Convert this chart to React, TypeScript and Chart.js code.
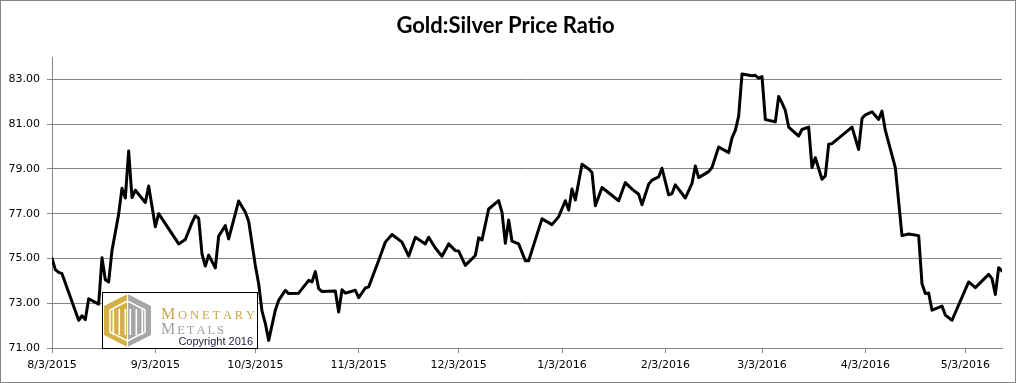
import React, { useEffect, useRef } from "react";
import { Chart, registerables } from "chart.js";

Chart.register(...registerables);

const chartTitle = "Gold:Silver Price Ratio";

const dates = [
  "2015-08-03", "2015-08-04", "2015-08-05", "2015-08-06", "2015-08-11", "2015-08-12", "2015-08-13", "2015-08-14",
  "2015-08-17", "2015-08-18", "2015-08-19", "2015-08-20", "2015-08-21", "2015-08-23", "2015-08-24", "2015-08-25",
  "2015-08-26", "2015-08-27", "2015-08-28", "2015-08-31", "2015-09-01", "2015-09-03", "2015-09-04", "2015-09-10",
  "2015-09-12", "2015-09-14", "2015-09-15", "2015-09-16", "2015-09-17", "2015-09-18", "2015-09-19", "2015-09-21",
  "2015-09-22", "2015-09-24", "2015-09-25", "2015-09-28", "2015-09-30", "2015-10-01", "2015-10-03", "2015-10-04",
  "2015-10-05", "2015-10-06", "2015-10-07", "2015-10-09", "2015-10-10", "2015-10-12", "2015-10-13", "2015-10-16",
  "2015-10-19", "2015-10-20", "2015-10-21", "2015-10-22", "2015-10-23", "2015-10-27", "2015-10-28", "2015-10-29",
  "2015-10-30", "2015-11-02", "2015-11-03", "2015-11-05", "2015-11-06", "2015-11-09", "2015-11-11", "2015-11-13",
  "2015-11-16", "2015-11-18", "2015-11-20", "2015-11-23", "2015-11-24", "2015-11-26", "2015-11-28", "2015-11-30",
  "2015-12-02", "2015-12-03", "2015-12-05", "2015-12-08", "2015-12-09", "2015-12-10", "2015-12-12", "2015-12-15",
  "2015-12-16", "2015-12-17", "2015-12-18", "2015-12-19", "2015-12-21", "2015-12-23", "2015-12-24", "2015-12-28",
  "2015-12-31", "2016-01-02", "2016-01-04", "2016-01-05", "2016-01-06", "2016-01-07", "2016-01-09", "2016-01-11",
  "2016-01-12", "2016-01-13", "2016-01-15", "2016-01-20", "2016-01-22", "2016-01-24", "2016-01-26", "2016-01-27",
  "2016-01-29", "2016-01-30", "2016-02-01", "2016-02-02", "2016-02-04", "2016-02-05", "2016-02-06", "2016-02-09",
  "2016-02-11", "2016-02-12", "2016-02-13", "2016-02-16", "2016-02-17", "2016-02-19", "2016-02-22", "2016-02-23",
  "2016-02-24", "2016-02-25", "2016-02-26", "2016-02-29", "2016-03-01", "2016-03-02", "2016-03-03", "2016-03-04",
  "2016-03-07", "2016-03-08", "2016-03-09", "2016-03-10", "2016-03-11", "2016-03-14", "2016-03-15", "2016-03-17",
  "2016-03-18", "2016-03-19", "2016-03-21", "2016-03-22", "2016-03-23", "2016-03-24", "2016-03-30", "2016-04-01",
  "2016-04-02", "2016-04-03", "2016-04-05", "2016-04-07", "2016-04-08", "2016-04-09", "2016-04-12", "2016-04-14",
  "2016-04-16", "2016-04-19", "2016-04-20", "2016-04-21", "2016-04-22", "2016-04-23", "2016-04-26", "2016-04-27",
  "2016-04-29", "2016-05-04", "2016-05-06", "2016-05-10", "2016-05-11", "2016-05-12", "2016-05-13", "2016-05-14",
];

const ratios = [
  75.0, 74.5, 74.38, 74.32, 72.24, 72.44, 72.27, 73.2,
  72.96, 75.03, 74.05, 73.95, 75.36, 76.98, 78.14, 77.7,
  79.8, 77.72, 78.05, 77.5, 78.24, 76.42, 77.0, 75.65,
  75.85, 76.6, 76.91, 76.8, 75.2, 74.66, 75.15, 74.58,
  76.0, 76.47, 75.87, 77.57, 77.06, 76.66, 74.69, 73.87,
  72.65, 72.1, 71.34, 72.69, 73.13, 73.58, 73.43, 73.45,
  74.02, 73.95, 74.42, 73.65, 73.52, 73.55, 72.61, 73.6,
  73.45, 73.58, 73.25, 73.68, 73.73, 74.91, 75.73, 76.07,
  75.73, 75.1, 75.95, 75.65, 75.95, 75.47, 75.1, 75.65,
  75.35, 75.33, 74.69, 75.13, 75.92, 75.83, 77.21, 77.58,
  77.06, 75.68, 76.72, 75.77, 75.65, 74.9, 74.9, 76.77,
  76.51, 76.87, 77.58, 77.16, 78.1, 77.61, 79.21, 79.0,
  78.84, 77.36, 78.17, 77.58, 78.39, 78.1, 77.87, 77.4,
  78.32, 78.5, 78.64, 79.03, 77.84, 77.9, 78.29, 77.7,
  78.35, 79.13, 78.61, 78.88, 79.06, 79.98, 79.73, 80.39,
  80.72, 81.36, 83.24, 83.16, 83.18, 83.05, 83.13, 81.21,
  81.1, 82.24, 81.95, 81.61, 80.87, 80.47, 80.76, 80.87,
  79.06, 79.5, 78.54, 78.69, 80.1, 80.13, 80.87, 79.87,
  81.25, 81.42, 81.55, 81.21, 81.58, 80.72, 79.06, 76.02,
  76.09, 76.02, 73.87, 73.43, 73.46, 72.69, 72.87, 72.47,
  72.24, 73.95, 73.7, 74.29, 74.1, 73.39, 74.59, 74.44,
];

const xTickDates = [
  "2015-08-03", "2015-09-03", "2015-10-03", "2015-11-03", "2015-12-03",
  "2016-01-03", "2016-02-03", "2016-03-03", "2016-04-03", "2016-05-03",
];
const xTickLabels = [
  "8/3/2015", "9/3/2015", "10/3/2015", "11/3/2015", "12/3/2015",
  "1/3/2016", "2/3/2016", "3/3/2016", "4/3/2016", "5/3/2016",
];
const xStartDate = "2015-08-03";
const xEndDate = "2016-05-14";

const yTicks = [71, 73, 75, 77, 79, 81, 83];
const yMin = 71;
const yMax = 84;

const logoWord1 = "MONETARY";
const logoWord2 = "METALS";
const logoCopyright = "Copyright 2016";

const BASE = Date.parse(xStartDate);
const dayOf = (s: string) => (Date.parse(s) - BASE) / 86400000;

const GRID = "#868686";

function drawSpaced(ctx: CanvasRenderingContext2D, word: string, x: number, base: number, endX: number, big: number, small: number, color: string) {
  const fonts = word.split("").map((_, i) => `${i === 0 ? big : small}px "Liberation Serif", serif`);
  const widths = word.split("").map((ch, i) => {
    ctx.font = fonts[i];
    return ctx.measureText(ch).width;
  });
  const total = widths.reduce((a, b) => a + b, 0);
  const gap = (endX - x - total) / (word.length - 1);
  let cx = x;
  ctx.fillStyle = color;
  ctx.textBaseline = "alphabetic";
  ctx.textAlign = "left";
  word.split("").forEach((ch, i) => {
    ctx.font = fonts[i];
    ctx.fillText(ch, cx, base);
    cx += widths[i] + gap;
  });
}

const logoPlugin = {
  id: "mmLogo",
  afterDatasetsDraw(chart: any) {
    const { ctx, chartArea } = chart;
    const bw = 155;
    const bh = 56;
    const bx = Math.round(chartArea.left) + 50;
    const by = Math.round(chartArea.bottom) - bh;
    ctx.save();
    ctx.fillStyle = "#ffffff";
    ctx.fillRect(bx, by, bw, bh);
    ctx.strokeStyle = "#000000";
    ctx.lineWidth = 1;
    ctx.strokeRect(bx + 0.5, by + 0.5, bw, bh);

    // hexagon emblem
    const cx = bx + 25.5;
    const top = by + 2;
    const bot = by + 55;
    const lx = bx + 2;
    const rx = bx + 49;
    const yu = by + 14;
    const yl = by + 43;
    ctx.fillStyle = "#D5AF42";
    ctx.beginPath();
    ctx.moveTo(cx, top);
    ctx.lineTo(lx, yu);
    ctx.lineTo(lx, yl);
    ctx.lineTo(cx, bot);
    ctx.closePath();
    ctx.fill();
    ctx.fillStyle = "#A6A6A6";
    ctx.beginPath();
    ctx.moveTo(cx, top);
    ctx.lineTo(rx, yu);
    ctx.lineTo(rx, yl);
    ctx.lineTo(cx, bot);
    ctx.closePath();
    ctx.fill();
    // inner outline
    ctx.strokeStyle = "#ffffff";
    ctx.lineWidth = 1.5;
    ctx.beginPath();
    ctx.moveTo(cx, top + 7);
    ctx.lineTo(lx + 6, yu + 4);
    ctx.lineTo(lx + 6, yl - 3);
    ctx.lineTo(cx, bot - 6);
    ctx.lineTo(rx - 6, yl - 3);
    ctx.lineTo(rx - 6, yu + 4);
    ctx.closePath();
    ctx.stroke();
    // pillars
    ctx.fillStyle = "#ffffff";
    [-15, -9, -3, 2, 8, 14].forEach((o) => {
      ctx.fillRect(cx + o, by + 17, 1.6, 26);
    });
    ctx.fillRect(cx - 0.6, top, 1.2, bot - top);

    drawSpaced(ctx, logoWord1, bx + 59, by + 26.5, bx + 153, 16, 12.5, "#C9A544");
    drawSpaced(ctx, logoWord2, bx + 59, by + 41.5, bx + 122, 16, 12.5, "#A0A0A0");

    ctx.font = '11px "Liberation Sans", Arial, sans-serif';
    ctx.fillStyle = "#1b1b3f";
    ctx.textAlign = "right";
    ctx.textBaseline = "alphabetic";
    ctx.fillText(logoCopyright, bx + 151, by + 53);
    ctx.restore();
  },
};

export default function App() {
  const ref = useRef<HTMLCanvasElement | null>(null);

  useEffect(() => {
    if (!ref.current) return;
    const points = dates.map((d, i) => ({ x: dayOf(d), y: ratios[i] }));
    const tickFont = { family: '"DejaVu Sans", Verdana, sans-serif', size: 11 };
    const chart = new Chart(ref.current, {
      type: "line",
      data: {
        datasets: [
          {
            label: "Gold:Silver",
            data: points,
            borderColor: "#000000",
            borderWidth: 3,
            pointRadius: 0,
            tension: 0,
            borderJoinStyle: "round",
            borderCapStyle: "round",
            fill: false,
          },
        ],
      },
      options: {
        responsive: false,
        animation: false,
        devicePixelRatio: 1,
        layout: { padding: { left: 8, right: 13, top: 0, bottom: 4 } },
        plugins: {
          legend: { display: false },
          tooltip: { enabled: false },
          title: {
            display: true,
            text: chartTitle,
            color: "#000000",
            font: { family: "Lato, sans-serif", size: 22, weight: "bold" },
            padding: { top: 11.3, bottom: 18.3 },
          },
        },
        scales: {
          x: {
            type: "linear",
            min: dayOf(xStartDate),
            max: dayOf(xEndDate),
            afterBuildTicks: (scale: any) => {
              scale.ticks = xTickDates.map((d) => ({ value: dayOf(d) }));
            },
            afterFit: (scale: any) => {
              scale.height = 30;
            },
            ticks: {
              autoSkip: false,
              maxRotation: 0,
              minRotation: 0,
              color: "#000000",
              font: tickFont,
              padding: 6,
              callback: (value: any) => {
                const i = xTickDates.findIndex((d) => Math.abs(dayOf(d) - Number(value)) < 0.01);
                return i >= 0 ? xTickLabels[i] : "";
              },
            },
            grid: {
              display: true,
              drawOnChartArea: false,
              drawTicks: true,
              tickLength: 5,
              color: GRID,
            },
            border: { display: true, color: GRID, width: 1 },
          },
          y: {
            type: "linear",
            min: yMin,
            max: yMax,
            afterBuildTicks: (scale: any) => {
              scale.ticks = yTicks.map((v) => ({ value: v }));
            },
            afterFit: (scale: any) => {
              scale.width = 43;
            },
            ticks: {
              color: "#000000",
              font: tickFont,
              padding: 7,
              callback: (value: any) => Number(value).toFixed(2),
            },
            grid: {
              color: GRID,
              lineWidth: 1,
              drawTicks: true,
              tickLength: 5,
            },
            border: { display: true, color: GRID, width: 1 },
          },
        },
      },
      plugins: [logoPlugin],
    } as any);
    return () => chart.destroy();
  }, []);

  return (
    <div
      style={{
        position: "absolute",
        left: 0,
        top: 0,
        width: 1016,
        height: 383,
        border: `1px solid ${GRID}`,
        boxSizing: "border-box",
        background: "#ffffff",
      }}
    >
      <canvas ref={ref} width={1014} height={381} style={{ display: "block", width: 1014, height: 381 }} />
    </div>
  );
}
